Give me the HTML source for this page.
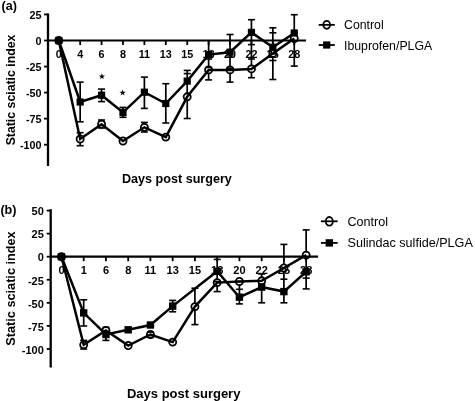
<!DOCTYPE html>
<html><head><meta charset="utf-8"><style>
html,body{margin:0;padding:0;background:#fff;}
svg{display:block;will-change:transform;}
.b{font-family:"Liberation Sans",sans-serif;font-weight:bold;fill:#000;}
.r{font-family:"Liberation Sans",sans-serif;fill:#000;}
</style></head><body>
<svg width="475" height="401" viewBox="0 0 475 401">
<rect width="475" height="401" fill="#fff"/>
<line x1="48" y1="13.5" x2="48" y2="166" stroke="#000" stroke-width="2.3"/>
<line x1="44" y1="14.45" x2="48" y2="14.45" stroke="#000" stroke-width="1.8"/>
<text x="41.5" y="19.04" text-anchor="end" class="b" font-size="10.8">25</text>
<line x1="44" y1="40.50" x2="48" y2="40.50" stroke="#000" stroke-width="1.8"/>
<text x="41.5" y="45.09" text-anchor="end" class="b" font-size="10.8">0</text>
<line x1="44" y1="66.55" x2="48" y2="66.55" stroke="#000" stroke-width="1.8"/>
<text x="41.5" y="71.14" text-anchor="end" class="b" font-size="10.8">-25</text>
<line x1="44" y1="92.60" x2="48" y2="92.60" stroke="#000" stroke-width="1.8"/>
<text x="41.5" y="97.19" text-anchor="end" class="b" font-size="10.8">-50</text>
<line x1="44" y1="118.65" x2="48" y2="118.65" stroke="#000" stroke-width="1.8"/>
<text x="41.5" y="123.24" text-anchor="end" class="b" font-size="10.8">-75</text>
<line x1="44" y1="144.70" x2="48" y2="144.70" stroke="#000" stroke-width="1.8"/>
<text x="41.5" y="149.29" text-anchor="end" class="b" font-size="10.8">-100</text>
<line x1="48" y1="40.5" x2="306" y2="40.5" stroke="#000" stroke-width="2.2"/>
<line x1="58.75" y1="40.5" x2="58.75" y2="45.0" stroke="#000" stroke-width="1.8"/>
<text x="58.75" y="57.6" text-anchor="middle" class="b" font-size="10.8">0</text>
<line x1="80.16" y1="40.5" x2="80.16" y2="45.0" stroke="#000" stroke-width="1.8"/>
<text x="80.16" y="57.6" text-anchor="middle" class="b" font-size="10.8">4</text>
<line x1="101.57" y1="40.5" x2="101.57" y2="45.0" stroke="#000" stroke-width="1.8"/>
<text x="101.57" y="57.6" text-anchor="middle" class="b" font-size="10.8">6</text>
<line x1="122.98" y1="40.5" x2="122.98" y2="45.0" stroke="#000" stroke-width="1.8"/>
<text x="122.98" y="57.6" text-anchor="middle" class="b" font-size="10.8">8</text>
<line x1="144.39" y1="40.5" x2="144.39" y2="45.0" stroke="#000" stroke-width="1.8"/>
<text x="144.39" y="57.6" text-anchor="middle" class="b" font-size="10.8">11</text>
<line x1="165.80" y1="40.5" x2="165.80" y2="45.0" stroke="#000" stroke-width="1.8"/>
<text x="165.80" y="57.6" text-anchor="middle" class="b" font-size="10.8">13</text>
<line x1="187.21" y1="40.5" x2="187.21" y2="45.0" stroke="#000" stroke-width="1.8"/>
<text x="187.21" y="57.6" text-anchor="middle" class="b" font-size="10.8">15</text>
<line x1="208.62" y1="40.5" x2="208.62" y2="45.0" stroke="#000" stroke-width="1.8"/>
<text x="208.62" y="57.6" text-anchor="middle" class="b" font-size="10.8">18</text>
<line x1="230.03" y1="40.5" x2="230.03" y2="45.0" stroke="#000" stroke-width="1.8"/>
<text x="230.03" y="57.6" text-anchor="middle" class="b" font-size="10.8">20</text>
<line x1="251.44" y1="40.5" x2="251.44" y2="45.0" stroke="#000" stroke-width="1.8"/>
<text x="251.44" y="57.6" text-anchor="middle" class="b" font-size="10.8">22</text>
<line x1="272.85" y1="40.5" x2="272.85" y2="45.0" stroke="#000" stroke-width="1.8"/>
<text x="272.85" y="57.6" text-anchor="middle" class="b" font-size="10.8">25</text>
<line x1="294.26" y1="40.5" x2="294.26" y2="45.0" stroke="#000" stroke-width="1.8"/>
<text x="294.26" y="57.6" text-anchor="middle" class="b" font-size="10.8">28</text>
<mask id="mA" maskUnits="userSpaceOnUse" x="0" y="0" width="475" height="401"><rect width="475" height="401" fill="#fff"/><circle cx="80.16" cy="139.00" r="2.9499999999999997" fill="#000"/><circle cx="101.57" cy="124.20" r="2.9499999999999997" fill="#000"/><circle cx="122.98" cy="141.00" r="2.9499999999999997" fill="#000"/><circle cx="144.39" cy="127.30" r="2.9499999999999997" fill="#000"/><circle cx="165.80" cy="137.10" r="2.9499999999999997" fill="#000"/><circle cx="187.21" cy="96.80" r="2.9499999999999997" fill="#000"/><circle cx="208.62" cy="69.90" r="2.9499999999999997" fill="#000"/><circle cx="230.03" cy="69.90" r="2.9499999999999997" fill="#000"/><circle cx="251.44" cy="68.90" r="2.9499999999999997" fill="#000"/><circle cx="272.85" cy="53.40" r="2.9499999999999997" fill="#000"/><circle cx="294.26" cy="38.50" r="2.9499999999999997" fill="#000"/></mask>
<g mask="url(#mA)">
<line x1="80.16" y1="82.1" x2="80.16" y2="121.8" stroke="#000" stroke-width="1.7"/>
<line x1="101.57" y1="89.1" x2="101.57" y2="101.6" stroke="#000" stroke-width="1.7"/>
<line x1="122.98" y1="107.4" x2="122.98" y2="117.3" stroke="#000" stroke-width="1.7"/>
<line x1="144.39" y1="77.1" x2="144.39" y2="108.4" stroke="#000" stroke-width="1.7"/>
<line x1="165.80" y1="83.7" x2="165.80" y2="123" stroke="#000" stroke-width="1.7"/>
<line x1="187.21" y1="70.4" x2="187.21" y2="118.5" stroke="#000" stroke-width="1.7"/>
<line x1="208.62" y1="40.5" x2="208.62" y2="79.9" stroke="#000" stroke-width="1.7"/>
<line x1="230.03" y1="34.5" x2="230.03" y2="82.1" stroke="#000" stroke-width="1.7"/>
<line x1="251.44" y1="19.7" x2="251.44" y2="77.7" stroke="#000" stroke-width="1.7"/>
<line x1="272.85" y1="27.8" x2="272.85" y2="79.5" stroke="#000" stroke-width="1.7"/>
<line x1="294.26" y1="14.7" x2="294.26" y2="66.1" stroke="#000" stroke-width="1.7"/>
<line x1="80.16" y1="132.7" x2="80.16" y2="145.7" stroke="#000" stroke-width="1.7"/>
<line x1="101.57" y1="120" x2="101.57" y2="128" stroke="#000" stroke-width="1.7"/>
<line x1="144.39" y1="122.4" x2="144.39" y2="132" stroke="#000" stroke-width="1.7"/>
</g>
<polyline points="58.75,40.50 80.16,139.00 101.57,124.20 122.98,141.00 144.39,127.30 165.80,137.10 187.21,96.80 208.62,69.90 230.03,69.90 251.44,68.90 272.85,53.40 294.26,38.50" fill="none" stroke="#000" stroke-width="2.5" stroke-linejoin="miter"/>
<polyline points="58.75,40.50 80.16,102.00 101.57,95.20 122.98,112.40 144.39,92.20 165.80,103.50 187.21,81.10 208.62,54.60 230.03,52.20 251.44,32.40 272.85,47.20 294.26,33.00" fill="none" stroke="#000" stroke-width="2.5" stroke-linejoin="miter"/>
<circle cx="58.75" cy="40.50" r="3.55" fill="none" stroke="#000" stroke-width="1.8"/>
<circle cx="80.16" cy="139.00" r="3.55" fill="none" stroke="#000" stroke-width="1.8"/>
<circle cx="101.57" cy="124.20" r="3.55" fill="none" stroke="#000" stroke-width="1.8"/>
<circle cx="122.98" cy="141.00" r="3.55" fill="none" stroke="#000" stroke-width="1.8"/>
<circle cx="144.39" cy="127.30" r="3.55" fill="none" stroke="#000" stroke-width="1.8"/>
<circle cx="165.80" cy="137.10" r="3.55" fill="none" stroke="#000" stroke-width="1.8"/>
<circle cx="187.21" cy="96.80" r="3.55" fill="none" stroke="#000" stroke-width="1.8"/>
<circle cx="208.62" cy="69.90" r="3.55" fill="none" stroke="#000" stroke-width="1.8"/>
<circle cx="230.03" cy="69.90" r="3.55" fill="none" stroke="#000" stroke-width="1.8"/>
<circle cx="251.44" cy="68.90" r="3.55" fill="none" stroke="#000" stroke-width="1.8"/>
<circle cx="272.85" cy="53.40" r="3.55" fill="none" stroke="#000" stroke-width="1.8"/>
<circle cx="294.26" cy="38.50" r="3.55" fill="none" stroke="#000" stroke-width="1.8"/>
<rect x="55.15" y="36.90" width="7.2" height="7.2" fill="#000"/>
<rect x="76.56" y="98.40" width="7.2" height="7.2" fill="#000"/>
<rect x="97.97" y="91.60" width="7.2" height="7.2" fill="#000"/>
<rect x="119.38" y="108.80" width="7.2" height="7.2" fill="#000"/>
<rect x="140.79" y="88.60" width="7.2" height="7.2" fill="#000"/>
<rect x="162.20" y="99.90" width="7.2" height="7.2" fill="#000"/>
<rect x="183.61" y="77.50" width="7.2" height="7.2" fill="#000"/>
<rect x="205.02" y="51.00" width="7.2" height="7.2" fill="#000"/>
<rect x="226.43" y="48.60" width="7.2" height="7.2" fill="#000"/>
<rect x="247.84" y="28.80" width="7.2" height="7.2" fill="#000"/>
<rect x="269.25" y="43.60" width="7.2" height="7.2" fill="#000"/>
<rect x="290.66" y="29.40" width="7.2" height="7.2" fill="#000"/>
<line x1="76.66" y1="82.1" x2="83.66" y2="82.1" stroke="#000" stroke-width="1.6"/>
<line x1="76.66" y1="121.8" x2="83.66" y2="121.8" stroke="#000" stroke-width="1.6"/>
<line x1="98.07" y1="89.1" x2="105.07" y2="89.1" stroke="#000" stroke-width="1.6"/>
<line x1="98.07" y1="101.6" x2="105.07" y2="101.6" stroke="#000" stroke-width="1.6"/>
<line x1="119.48" y1="107.4" x2="126.48" y2="107.4" stroke="#000" stroke-width="1.6"/>
<line x1="119.48" y1="117.3" x2="126.48" y2="117.3" stroke="#000" stroke-width="1.6"/>
<line x1="140.89" y1="77.1" x2="147.89" y2="77.1" stroke="#000" stroke-width="1.6"/>
<line x1="140.89" y1="108.4" x2="147.89" y2="108.4" stroke="#000" stroke-width="1.6"/>
<line x1="162.30" y1="83.7" x2="169.30" y2="83.7" stroke="#000" stroke-width="1.6"/>
<line x1="162.30" y1="123" x2="169.30" y2="123" stroke="#000" stroke-width="1.6"/>
<line x1="183.71" y1="70.4" x2="190.71" y2="70.4" stroke="#000" stroke-width="1.6"/>
<line x1="183.71" y1="73.6" x2="190.71" y2="73.6" stroke="#000" stroke-width="1.6"/>
<line x1="183.71" y1="118.5" x2="190.71" y2="118.5" stroke="#000" stroke-width="1.6"/>
<line x1="205.12" y1="59" x2="212.12" y2="59" stroke="#000" stroke-width="1.6"/>
<line x1="205.12" y1="67.5" x2="212.12" y2="67.5" stroke="#000" stroke-width="1.6"/>
<line x1="205.12" y1="79.9" x2="212.12" y2="79.9" stroke="#000" stroke-width="1.6"/>
<line x1="226.53" y1="34.5" x2="233.53" y2="34.5" stroke="#000" stroke-width="1.6"/>
<line x1="226.53" y1="57.2" x2="233.53" y2="57.2" stroke="#000" stroke-width="1.6"/>
<line x1="226.53" y1="68.2" x2="233.53" y2="68.2" stroke="#000" stroke-width="1.6"/>
<line x1="226.53" y1="82.1" x2="233.53" y2="82.1" stroke="#000" stroke-width="1.6"/>
<line x1="247.94" y1="19.7" x2="254.94" y2="19.7" stroke="#000" stroke-width="1.6"/>
<line x1="247.94" y1="44.6" x2="254.94" y2="44.6" stroke="#000" stroke-width="1.6"/>
<line x1="247.94" y1="59" x2="254.94" y2="59" stroke="#000" stroke-width="1.6"/>
<line x1="247.94" y1="77.7" x2="254.94" y2="77.7" stroke="#000" stroke-width="1.6"/>
<line x1="269.35" y1="27.8" x2="276.35" y2="27.8" stroke="#000" stroke-width="1.6"/>
<line x1="269.35" y1="32.8" x2="276.35" y2="32.8" stroke="#000" stroke-width="1.6"/>
<line x1="269.35" y1="60.5" x2="276.35" y2="60.5" stroke="#000" stroke-width="1.6"/>
<line x1="269.35" y1="79.5" x2="276.35" y2="79.5" stroke="#000" stroke-width="1.6"/>
<line x1="290.76" y1="14.7" x2="297.76" y2="14.7" stroke="#000" stroke-width="1.6"/>
<line x1="290.76" y1="66.1" x2="297.76" y2="66.1" stroke="#000" stroke-width="1.6"/>
<line x1="76.66" y1="132.7" x2="83.66" y2="132.7" stroke="#000" stroke-width="1.6"/>
<line x1="76.66" y1="145.7" x2="83.66" y2="145.7" stroke="#000" stroke-width="1.6"/>
<line x1="98.07" y1="120" x2="105.07" y2="120" stroke="#000" stroke-width="1.6"/>
<line x1="98.07" y1="128" x2="105.07" y2="128" stroke="#000" stroke-width="1.6"/>
<line x1="140.89" y1="122.4" x2="147.89" y2="122.4" stroke="#000" stroke-width="1.6"/>
<line x1="140.89" y1="132" x2="147.89" y2="132" stroke="#000" stroke-width="1.6"/>
<polygon points="101.90,73.20 102.66,75.45 105.04,75.48 103.14,76.90 103.84,79.17 101.90,77.80 99.96,79.17 100.66,76.90 98.76,75.48 101.14,75.45" fill="#000"/>
<polygon points="122.60,89.50 123.36,91.75 125.74,91.78 123.84,93.20 124.54,95.47 122.60,94.10 120.66,95.47 121.36,93.20 119.46,91.78 121.84,91.75" fill="#000"/>
<line x1="318.7" y1="24.85" x2="334.8" y2="24.85" stroke="#000" stroke-width="1.8"/>
<ellipse cx="326.7" cy="24.85" rx="3.4" ry="3.95" fill="none" stroke="#000" stroke-width="1.8"/>
<line x1="318.7" y1="45" x2="334.8" y2="45" stroke="#000" stroke-width="1.8"/>
<rect x="323.09999999999997" y="41.4" width="7.2" height="7.2" fill="#000"/>
<text x="344" y="29.4" class="r" font-size="12.3">Control</text>
<text x="344" y="49.8" class="r" font-size="12.3">Ibuprofen/PLGA</text>
<text x="176.9" y="182.8" text-anchor="middle" class="b" font-size="12.6">Days post surgery</text>
<text transform="translate(15,90) rotate(-90)" text-anchor="middle" class="b" font-size="12.3">Static sciatic index</text>
<text x="1.6" y="9.9" class="b" font-size="12.6">(a)</text>
<line x1="50.7" y1="209.2" x2="50.7" y2="367.5" stroke="#000" stroke-width="2.3"/>
<line x1="46.7" y1="210.58" x2="50.7" y2="210.58" stroke="#000" stroke-width="1.8"/>
<text x="43.800000000000004" y="215.34" text-anchor="end" class="b" font-size="11">50</text>
<line x1="46.7" y1="233.64" x2="50.7" y2="233.64" stroke="#000" stroke-width="1.8"/>
<text x="43.800000000000004" y="238.40" text-anchor="end" class="b" font-size="11">25</text>
<line x1="46.7" y1="256.70" x2="50.7" y2="256.70" stroke="#000" stroke-width="1.8"/>
<text x="43.800000000000004" y="261.46" text-anchor="end" class="b" font-size="11">0</text>
<line x1="46.7" y1="279.76" x2="50.7" y2="279.76" stroke="#000" stroke-width="1.8"/>
<text x="43.800000000000004" y="284.52" text-anchor="end" class="b" font-size="11">-25</text>
<line x1="46.7" y1="302.82" x2="50.7" y2="302.82" stroke="#000" stroke-width="1.8"/>
<text x="43.800000000000004" y="307.58" text-anchor="end" class="b" font-size="11">-50</text>
<line x1="46.7" y1="325.88" x2="50.7" y2="325.88" stroke="#000" stroke-width="1.8"/>
<text x="43.800000000000004" y="330.64" text-anchor="end" class="b" font-size="11">-75</text>
<line x1="46.7" y1="348.94" x2="50.7" y2="348.94" stroke="#000" stroke-width="1.8"/>
<text x="43.800000000000004" y="353.70" text-anchor="end" class="b" font-size="11">-100</text>
<line x1="50.7" y1="256.7" x2="318" y2="256.7" stroke="#000" stroke-width="2.2"/>
<line x1="61.45" y1="256.7" x2="61.45" y2="261.2" stroke="#000" stroke-width="1.8"/>
<text x="61.45" y="274" text-anchor="middle" class="b" font-size="11">0</text>
<line x1="83.70" y1="256.7" x2="83.70" y2="261.2" stroke="#000" stroke-width="1.8"/>
<text x="83.70" y="274" text-anchor="middle" class="b" font-size="11">1</text>
<line x1="105.94" y1="256.7" x2="105.94" y2="261.2" stroke="#000" stroke-width="1.8"/>
<text x="105.94" y="274" text-anchor="middle" class="b" font-size="11">6</text>
<line x1="128.19" y1="256.7" x2="128.19" y2="261.2" stroke="#000" stroke-width="1.8"/>
<text x="128.19" y="274" text-anchor="middle" class="b" font-size="11">8</text>
<line x1="150.43" y1="256.7" x2="150.43" y2="261.2" stroke="#000" stroke-width="1.8"/>
<text x="150.43" y="274" text-anchor="middle" class="b" font-size="11">11</text>
<line x1="172.68" y1="256.7" x2="172.68" y2="261.2" stroke="#000" stroke-width="1.8"/>
<text x="172.68" y="274" text-anchor="middle" class="b" font-size="11">13</text>
<line x1="194.92" y1="256.7" x2="194.92" y2="261.2" stroke="#000" stroke-width="1.8"/>
<text x="194.92" y="274" text-anchor="middle" class="b" font-size="11">15</text>
<line x1="217.17" y1="256.7" x2="217.17" y2="261.2" stroke="#000" stroke-width="1.8"/>
<text x="217.17" y="274" text-anchor="middle" class="b" font-size="11">18</text>
<line x1="239.41" y1="256.7" x2="239.41" y2="261.2" stroke="#000" stroke-width="1.8"/>
<text x="239.41" y="274" text-anchor="middle" class="b" font-size="11">20</text>
<line x1="261.66" y1="256.7" x2="261.66" y2="261.2" stroke="#000" stroke-width="1.8"/>
<text x="261.66" y="274" text-anchor="middle" class="b" font-size="11">22</text>
<line x1="283.90" y1="256.7" x2="283.90" y2="261.2" stroke="#000" stroke-width="1.8"/>
<text x="283.90" y="274" text-anchor="middle" class="b" font-size="11">25</text>
<line x1="306.15" y1="256.7" x2="306.15" y2="261.2" stroke="#000" stroke-width="1.8"/>
<text x="306.15" y="274" text-anchor="middle" class="b" font-size="11">28</text>
<mask id="mB" maskUnits="userSpaceOnUse" x="0" y="0" width="475" height="401"><rect width="475" height="401" fill="#fff"/><circle cx="83.70" cy="344.80" r="2.9499999999999997" fill="#000"/><circle cx="105.94" cy="330.50" r="2.9499999999999997" fill="#000"/><circle cx="128.19" cy="345.50" r="2.9499999999999997" fill="#000"/><circle cx="150.43" cy="334.50" r="2.9499999999999997" fill="#000"/><circle cx="172.68" cy="342.10" r="2.9499999999999997" fill="#000"/><circle cx="194.92" cy="306.60" r="2.9499999999999997" fill="#000"/><circle cx="217.17" cy="282.60" r="2.9499999999999997" fill="#000"/><circle cx="239.41" cy="281.50" r="2.9499999999999997" fill="#000"/><circle cx="261.66" cy="280.80" r="2.9499999999999997" fill="#000"/><circle cx="283.90" cy="268.00" r="2.9499999999999997" fill="#000"/><circle cx="306.15" cy="255.20" r="2.9499999999999997" fill="#000"/></mask>
<g mask="url(#mB)">
<line x1="83.70" y1="299.8" x2="83.70" y2="326" stroke="#000" stroke-width="1.7"/>
<line x1="83.70" y1="340.4" x2="83.70" y2="349" stroke="#000" stroke-width="1.7"/>
<line x1="105.94" y1="327.3" x2="105.94" y2="340.4" stroke="#000" stroke-width="1.7"/>
<line x1="150.43" y1="332.1" x2="150.43" y2="337.4" stroke="#000" stroke-width="1.7"/>
<line x1="172.68" y1="300.4" x2="172.68" y2="311.8" stroke="#000" stroke-width="1.7"/>
<line x1="194.92" y1="288.2" x2="194.92" y2="324.6" stroke="#000" stroke-width="1.7"/>
<line x1="217.17" y1="259.4" x2="217.17" y2="291.6" stroke="#000" stroke-width="1.7"/>
<line x1="239.41" y1="281.5" x2="239.41" y2="303.9" stroke="#000" stroke-width="1.7"/>
<line x1="261.66" y1="274" x2="261.66" y2="302.8" stroke="#000" stroke-width="1.7"/>
<line x1="283.90" y1="244.4" x2="283.90" y2="302.8" stroke="#000" stroke-width="1.7"/>
<line x1="306.15" y1="229.9" x2="306.15" y2="288.9" stroke="#000" stroke-width="1.7"/>
</g>
<polyline points="61.45,256.70 83.70,344.80 105.94,330.50 128.19,345.50 150.43,334.50 172.68,342.10 194.92,306.60 217.17,282.60 239.41,281.50 261.66,280.80 283.90,268.00 306.15,255.20" fill="none" stroke="#000" stroke-width="2.5" stroke-linejoin="miter"/>
<polyline points="61.45,256.70 83.70,312.90 105.94,334.50 128.19,329.80 150.43,325.00 172.68,306.10 217.17,271.30 239.41,297.20 261.66,287.10 283.90,291.60 306.15,271.80" fill="none" stroke="#000" stroke-width="2.5" stroke-linejoin="miter"/>
<circle cx="61.45" cy="256.70" r="3.55" fill="none" stroke="#000" stroke-width="1.8"/>
<circle cx="83.70" cy="344.80" r="3.55" fill="none" stroke="#000" stroke-width="1.8"/>
<circle cx="105.94" cy="330.50" r="3.55" fill="none" stroke="#000" stroke-width="1.8"/>
<circle cx="128.19" cy="345.50" r="3.55" fill="none" stroke="#000" stroke-width="1.8"/>
<circle cx="150.43" cy="334.50" r="3.55" fill="none" stroke="#000" stroke-width="1.8"/>
<circle cx="172.68" cy="342.10" r="3.55" fill="none" stroke="#000" stroke-width="1.8"/>
<circle cx="194.92" cy="306.60" r="3.55" fill="none" stroke="#000" stroke-width="1.8"/>
<circle cx="217.17" cy="282.60" r="3.55" fill="none" stroke="#000" stroke-width="1.8"/>
<circle cx="239.41" cy="281.50" r="3.55" fill="none" stroke="#000" stroke-width="1.8"/>
<circle cx="261.66" cy="280.80" r="3.55" fill="none" stroke="#000" stroke-width="1.8"/>
<circle cx="283.90" cy="268.00" r="3.55" fill="none" stroke="#000" stroke-width="1.8"/>
<circle cx="306.15" cy="255.20" r="3.55" fill="none" stroke="#000" stroke-width="1.8"/>
<rect x="57.75" y="253.00" width="7.4" height="7.4" fill="#000"/>
<rect x="80.00" y="309.20" width="7.4" height="7.4" fill="#000"/>
<rect x="102.24" y="330.80" width="7.4" height="7.4" fill="#000"/>
<rect x="124.48" y="326.10" width="7.4" height="7.4" fill="#000"/>
<rect x="146.73" y="321.30" width="7.4" height="7.4" fill="#000"/>
<rect x="168.98" y="302.40" width="7.4" height="7.4" fill="#000"/>
<rect x="213.47" y="267.60" width="7.4" height="7.4" fill="#000"/>
<rect x="235.71" y="293.50" width="7.4" height="7.4" fill="#000"/>
<rect x="257.96" y="283.40" width="7.4" height="7.4" fill="#000"/>
<rect x="280.20" y="287.90" width="7.4" height="7.4" fill="#000"/>
<rect x="302.45" y="268.10" width="7.4" height="7.4" fill="#000"/>
<line x1="80.20" y1="299.8" x2="87.20" y2="299.8" stroke="#000" stroke-width="1.6"/>
<line x1="80.20" y1="326" x2="87.20" y2="326" stroke="#000" stroke-width="1.6"/>
<line x1="80.20" y1="340.4" x2="87.20" y2="340.4" stroke="#000" stroke-width="1.6"/>
<line x1="80.20" y1="349" x2="87.20" y2="349" stroke="#000" stroke-width="1.6"/>
<line x1="102.44" y1="327.3" x2="109.44" y2="327.3" stroke="#000" stroke-width="1.6"/>
<line x1="102.44" y1="340.4" x2="109.44" y2="340.4" stroke="#000" stroke-width="1.6"/>
<line x1="146.93" y1="332.1" x2="153.93" y2="332.1" stroke="#000" stroke-width="1.6"/>
<line x1="146.93" y1="337.4" x2="153.93" y2="337.4" stroke="#000" stroke-width="1.6"/>
<line x1="169.18" y1="300.4" x2="176.18" y2="300.4" stroke="#000" stroke-width="1.6"/>
<line x1="169.18" y1="311.8" x2="176.18" y2="311.8" stroke="#000" stroke-width="1.6"/>
<line x1="191.42" y1="288.2" x2="198.42" y2="288.2" stroke="#000" stroke-width="1.6"/>
<line x1="191.42" y1="324.6" x2="198.42" y2="324.6" stroke="#000" stroke-width="1.6"/>
<line x1="213.67" y1="259.4" x2="220.67" y2="259.4" stroke="#000" stroke-width="1.6"/>
<line x1="213.67" y1="281.5" x2="220.67" y2="281.5" stroke="#000" stroke-width="1.6"/>
<line x1="213.67" y1="291.6" x2="220.67" y2="291.6" stroke="#000" stroke-width="1.6"/>
<line x1="235.91" y1="281.5" x2="242.91" y2="281.5" stroke="#000" stroke-width="1.6"/>
<line x1="235.91" y1="289.3" x2="242.91" y2="289.3" stroke="#000" stroke-width="1.6"/>
<line x1="235.91" y1="303.9" x2="242.91" y2="303.9" stroke="#000" stroke-width="1.6"/>
<line x1="258.16" y1="274" x2="265.16" y2="274" stroke="#000" stroke-width="1.6"/>
<line x1="258.16" y1="302.8" x2="265.16" y2="302.8" stroke="#000" stroke-width="1.6"/>
<line x1="280.40" y1="244.4" x2="287.40" y2="244.4" stroke="#000" stroke-width="1.6"/>
<line x1="280.40" y1="279.2" x2="287.40" y2="279.2" stroke="#000" stroke-width="1.6"/>
<line x1="280.40" y1="302.8" x2="287.40" y2="302.8" stroke="#000" stroke-width="1.6"/>
<line x1="302.65" y1="229.9" x2="309.65" y2="229.9" stroke="#000" stroke-width="1.6"/>
<line x1="302.65" y1="278.1" x2="309.65" y2="278.1" stroke="#000" stroke-width="1.6"/>
<line x1="302.65" y1="288.9" x2="309.65" y2="288.9" stroke="#000" stroke-width="1.6"/>
<line x1="320.9" y1="221.3" x2="337.7" y2="221.3" stroke="#000" stroke-width="1.8"/>
<ellipse cx="329.3" cy="221.3" rx="3.55" ry="4.3" fill="none" stroke="#000" stroke-width="1.8"/>
<line x1="320.9" y1="242.9" x2="337.7" y2="242.9" stroke="#000" stroke-width="1.8"/>
<rect x="325.6" y="239.20000000000002" width="7.4" height="7.4" fill="#000"/>
<text x="347.5" y="226" class="r" font-size="12.6">Control</text>
<text x="347.5" y="246.8" class="r" font-size="12.6">Sulindac sulfide/PLGA</text>
<text x="183.7" y="397.7" text-anchor="middle" class="b" font-size="13.0">Days post surgery</text>
<text transform="translate(15.4,288.5) rotate(-90)" text-anchor="middle" class="b" font-size="12.7">Static sciatic index</text>
<text x="0.4" y="214" class="b" font-size="12.6">(b)</text>
</svg>
</body></html>
